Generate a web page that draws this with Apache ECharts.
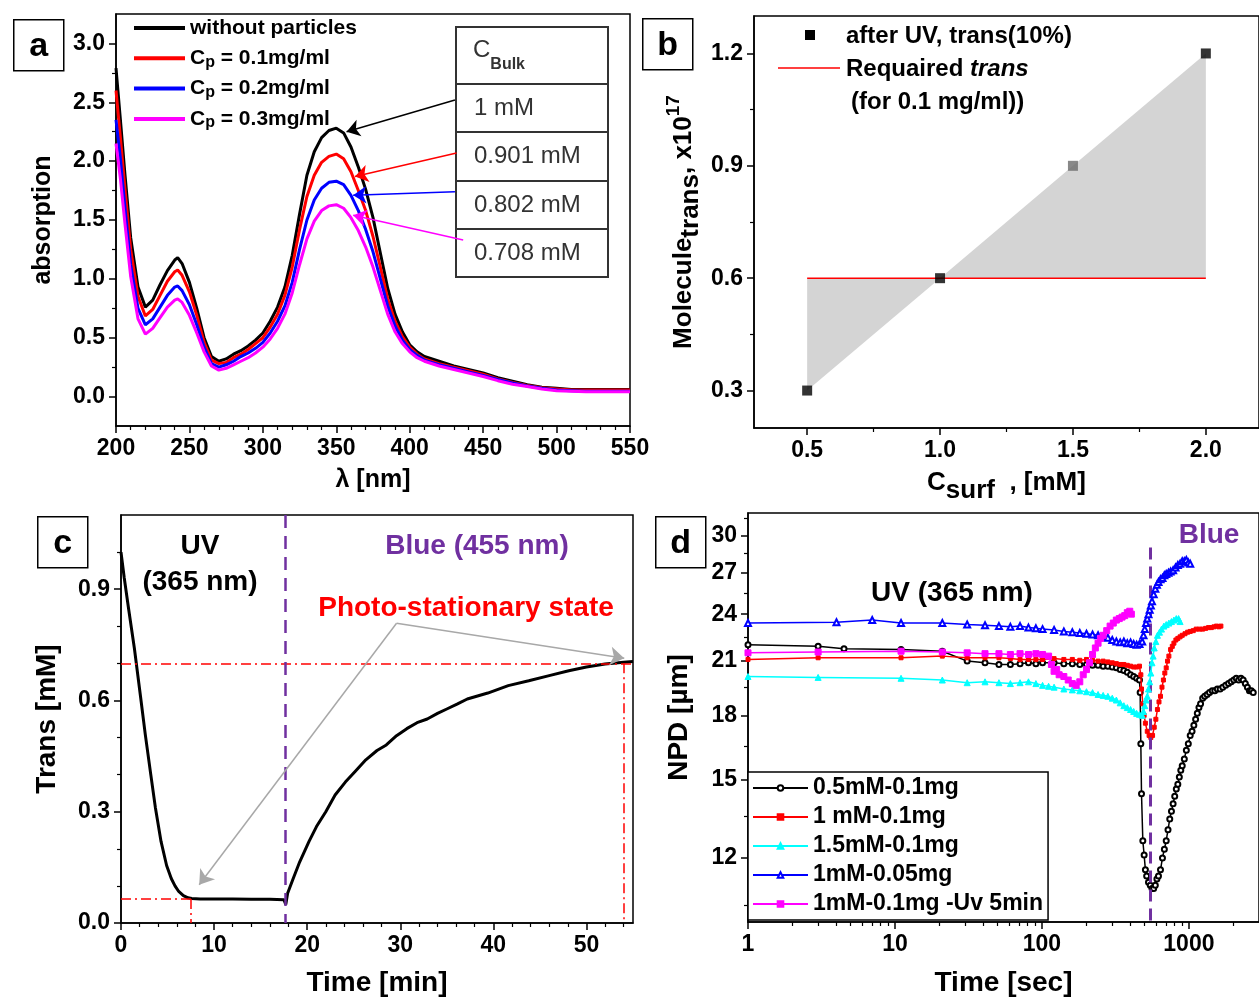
<!DOCTYPE html>
<html>
<head>
<meta charset="utf-8">
<script src="https://cdn.jsdelivr.net/npm/echarts@6/dist/echarts.min.js"></script>
<style>
  html, body { margin: 0; padding: 0; background: #ffffff; }
  #chart { width: 1259px; height: 998px; }
</style>
</head>
<body>
<div id="chart"></div>
<script>
// ---------- (a) absorption spectra ----------
const wavelength = [200,203,206,210,215,220,225,230,235,240,242,245,250,255,260,265,270,275,280,285,290,295,300,305,310,315,320,325,330,335,340,345,350,355,360,365,370,375,380,385,390,395,400,405,410,420,430,440,450,460,470,480,490,500,510,520,530,540,550];
const absNoParticles = [2.79,2.35,1.90,1.35,0.93,0.76,0.82,0.95,1.07,1.16,1.18,1.13,0.97,0.75,0.50,0.34,0.30,0.32,0.36,0.39,0.43,0.48,0.54,0.64,0.76,0.93,1.20,1.55,1.88,2.08,2.20,2.26,2.28,2.24,2.12,1.95,1.76,1.52,1.22,0.92,0.70,0.55,0.44,0.38,0.34,0.30,0.26,0.23,0.20,0.16,0.13,0.10,0.08,0.07,0.06,0.06,0.06,0.06,0.06];
const absCp01 = [2.60,2.20,1.78,1.25,0.85,0.685,0.74,0.86,0.98,1.06,1.075,1.03,0.89,0.69,0.46,0.31,0.28,0.29,0.33,0.36,0.40,0.45,0.50,0.59,0.70,0.86,1.10,1.42,1.70,1.88,1.99,2.04,2.06,2.02,1.91,1.75,1.58,1.36,1.10,0.83,0.64,0.51,0.42,0.36,0.32,0.28,0.25,0.22,0.19,0.15,0.12,0.095,0.075,0.065,0.055,0.055,0.055,0.055,0.055];
const absCp02 = [2.35,2.02,1.62,1.12,0.75,0.61,0.66,0.76,0.86,0.93,0.94,0.90,0.78,0.61,0.42,0.28,0.25,0.27,0.30,0.34,0.37,0.41,0.46,0.54,0.64,0.77,0.97,1.25,1.50,1.67,1.77,1.82,1.83,1.80,1.71,1.58,1.42,1.23,1.00,0.77,0.60,0.48,0.40,0.35,0.31,0.27,0.24,0.21,0.18,0.145,0.115,0.09,0.07,0.055,0.05,0.045,0.045,0.045,0.045];
const absCp03 = [2.15,1.85,1.48,1.02,0.66,0.53,0.58,0.67,0.76,0.82,0.83,0.80,0.69,0.54,0.38,0.26,0.225,0.24,0.27,0.30,0.33,0.37,0.42,0.49,0.58,0.70,0.88,1.12,1.34,1.49,1.58,1.62,1.63,1.60,1.52,1.41,1.27,1.10,0.90,0.70,0.55,0.45,0.38,0.33,0.30,0.26,0.23,0.20,0.17,0.135,0.105,0.085,0.065,0.05,0.045,0.04,0.04,0.04,0.04];
const spectraNames = ['without particles', 'Cp = 0.1mg/ml', 'Cp = 0.2mg/ml', 'Cp = 0.3mg/ml'];
const bulkHeader = 'Bulk';
const bulkLabels = ['1 mM', '0.901 mM', '0.802 mM', '0.708 mM'];
// arrow from each table row to its spectrum peak: [from, to] in (nm, absorption)
const bulkArrows = [
  [[430.8, 2.52], [357.0, 2.25]],
  [[431.9, 2.07], [362.7, 1.87]],
  [[430.8, 1.74], [361.5, 1.71]],
  [[436.4, 1.33], [361.5, 1.54]]
];
const lambdaTicks = [200, 250, 300, 350, 400, 450, 500, 550];
const absTicks = [0, 0.5, 1.0, 1.5, 2.0, 2.5, 3.0];

// ---------- (b) trans molecules vs surfactant concentration ----------
const cSurf = [0.5, 1.0, 1.5, 2.0];
const moleculesTrans = [0.3, 0.6, 0.9, 1.2];
const requiredTrans = 0.6;
const requiredRange = [0.5, 2.0];
const cSurfTicks = [0.5, 1.0, 1.5, 2.0];
const molTicks = [0.3, 0.6, 0.9, 1.2];

// ---------- (c) trans concentration under UV then blue light ----------
const timeMin = [0,0.35,0.8,1.44,2.1,2.6,3.2,3.7,4.3,4.9,5.4,5.8,6.2,6.7,7.2,7.6,8.5,10,12,14,16,17.5,17.7,17.9,18.5,19.2,20.2,21,22,23,24.1,25.2,26.3,27.5,28.5,29.6,30.7,31.8,32.9,34,35,36.1,37.2,38.3,39.4,41.6,43.8,46,48.1,50,52,54,55];
const transConc = [1.0,0.93,0.85,0.74,0.61,0.51,0.40,0.31,0.22,0.155,0.12,0.10,0.085,0.074,0.068,0.066,0.065,0.065,0.065,0.064,0.064,0.063,0.05,0.08,0.12,0.165,0.22,0.26,0.30,0.345,0.38,0.41,0.44,0.465,0.48,0.505,0.524,0.54,0.55,0.565,0.577,0.59,0.604,0.612,0.62,0.64,0.653,0.667,0.68,0.69,0.698,0.703,0.705];
const uvEndTime = 17.6;
const pssLevel = 0.7, pssTime = 54;
const uvPlateau = 0.065, uvPlateauTime = 7.5;
const pssArrowFrom = [29.6, 0.808];
const pssArrowTo = [[8.4, 0.103], [54.06, 0.714]];
const timeMinTicks = [0, 10, 20, 30, 40, 50];
const transTicks = [0, 0.3, 0.6, 0.9];

// ---------- (d) NPD vs time (log-log) ----------
const npdNames = ['0.5mM-0.1mg', '1 mM-0.1mg', '1.5mM-0.1mg', '1mM-0.05mg', '1mM-0.1mg -Uv 5min'];
const npd05mM01mg = [[1,22.0],[3,21.9],[4.5,21.75],[11,21.7],[21,21.6],[31,21.0],[41,20.9],[51,20.8],[61,20.8],[71,20.85],[81,20.9],[91,20.85],[101,20.9],[121,20.9],[141,20.85],[161,20.85],[181,20.8],[201,20.8],[221,20.75],[241,20.75],[261,20.7],[281,20.7],[301,20.65],[321,20.6],[341,20.5],[361,20.45],[381,20.35],[401,20.2],[421,20.1],[441,20.0],[461,19.9],[466,19.2],[471,16.6],[476,14.4],[486,12.6],[496,12.1],[506,11.6],[516,11.4],[531,11.2],[546,11.1],[561,11.0],[576,11.0],[591,11.1],[606,11.3],[621,11.4],[641,11.6],[661,12.0],[681,12.3],[701,12.6],[721,13.0],[741,13.4],[761,13.7],[781,14.0],[801,14.3],[821,14.6],[841,14.8],[861,15.1],[881,15.4],[901,15.6],[931,15.9],[961,16.3],[991,16.6],[1021,17.0],[1051,17.2],[1081,17.5],[1111,17.8],[1141,18.1],[1171,18.4],[1201,18.6],[1241,18.9],[1281,19.0],[1331,19.1],[1381,19.2],[1441,19.3],[1501,19.3],[1561,19.4],[1631,19.4],[1701,19.5],[1781,19.6],[1861,19.7],[1941,19.8],[2021,19.9],[2101,20.0],[2181,19.9],[2261,20.0],[2341,19.9],[2421,19.7],[2501,19.5],[2581,19.3],[2661,19.3],[2741,19.2]];
const npd1mM01mg = [[1,21.1],[3,21.2],[11,21.2],[21,21.3],[31,21.2],[41,21.2],[51,21.2],[61,21.15],[71,21.1],[81,21.1],[91,21.1],[101,21.1],[121,21.15],[141,21.1],[161,21.1],[181,21.05],[201,21.1],[221,21.05],[241,21.0],[261,21.0],[281,20.95],[301,20.9],[321,20.85],[341,20.8],[361,20.8],[381,20.75],[401,20.7],[421,20.65],[441,20.65],[461,20.7],[471,20.2],[476,19.4],[486,18.6],[496,18.0],[506,17.6],[521,17.2],[536,17.0],[551,16.9],[566,17.0],[581,17.4],[596,17.8],[611,18.3],[626,18.7],[641,19.0],[656,19.5],[671,19.9],[686,20.3],[701,20.6],[716,21.0],[731,21.3],[751,21.7],[771,21.9],[791,22.1],[816,22.3],[841,22.4],[871,22.5],[901,22.6],[941,22.7],[981,22.8],[1021,22.85],[1071,22.9],[1121,23.0],[1181,23.0],[1241,23.0],[1301,23.05],[1361,23.1],[1421,23.1],[1481,23.15],[1541,23.2],[1601,23.15],[1651,23.2]];
const npd15mM01mg = [[1,20.1],[3,20.05],[11,20.0],[21,19.9],[31,19.75],[41,19.8],[51,19.75],[61,19.7],[71,19.75],[81,19.8],[91,19.7],[101,19.6],[111,19.55],[121,19.5],[141,19.4],[161,19.35],[181,19.3],[201,19.25],[221,19.2],[241,19.1],[261,19.05],[281,19.0],[301,18.9],[321,18.8],[341,18.65],[361,18.5],[381,18.4],[401,18.3],[421,18.2],[441,18.1],[461,18.05],[481,18.0],[491,18.2],[501,18.5],[511,18.8],[521,19.0],[531,19.4],[541,19.8],[551,20.3],[561,20.9],[571,21.3],[581,21.8],[596,22.2],[611,22.6],[631,22.8],[651,23.0],[676,23.2],[701,23.3],[731,23.4],[761,23.5],[791,23.6],[821,23.7],[851,23.7],[871,23.5]];
const npd1mM005mg = [[1,23.4],[4,23.45],[7,23.6],[11,23.4],[21,23.4],[31,23.3],[41,23.25],[51,23.2],[61,23.15],[71,23.2],[81,23.1],[91,23.05],[101,23.0],[121,22.95],[141,22.85],[161,22.8],[181,22.75],[201,22.7],[221,22.65],[241,22.6],[261,22.5],[281,22.45],[301,22.3],[321,22.2],[341,22.15],[361,22.2],[381,22.1],[401,22.15],[421,22.05],[441,22.0],[461,22.05],[481,22.2],[491,22.6],[501,23.0],[511,23.4],[521,23.7],[531,24.0],[541,24.3],[551,24.6],[561,24.9],[576,25.4],[591,25.8],[606,26.1],[621,26.3],[641,26.5],[661,26.6],[681,26.8],[701,26.9],[726,27.0],[751,27.1],[781,27.2],[811,27.4],[841,27.6],[871,27.7],[901,27.9],[931,27.9],[961,28.0],[991,27.8],[1021,27.7]];
const npd1mM01mgUv5 = [[1,21.5],[3,21.55],[11,21.6],[21,21.55],[31,21.5],[41,21.45],[51,21.45],[61,21.4],[71,21.45],[81,21.4],[91,21.45],[101,21.4],[111,21.3],[116,20.8],[121,20.4],[126,20.5],[131,20.2],[141,20.1],[151,19.9],[161,19.7],[171,19.6],[181,19.8],[191,20.2],[201,20.5],[211,20.9],[221,21.4],[231,21.8],[241,22.1],[251,22.4],[261,22.6],[276,22.9],[291,23.2],[306,23.4],[321,23.6],[336,23.7],[351,23.8],[366,23.9],[381,24.1],[396,24.2],[406,24.0]];
const blueOnTime = 550;
const blueLineSpan = [29.0, 10];
const timeSecTicks = [1, 10, 100, 1000];
const npdTicks = [12, 15, 18, 21, 24, 27, 30];

// ---------- styling ----------
const FONT = "'Liberation Sans', Arial, Helvetica, sans-serif";
const PURPLE = '#7030a0';
const spectraColors = ['#000000', '#ff0000', '#0000ff', '#ff00ff'];
const npdStyles = [
  { color: '#000000', symbol: 'emptyCircle', size: 5 },
  { color: '#ff0000', symbol: 'rect', size: 4 },
  { color: '#00ffff', symbol: 'triangle', size: 6 },
  { color: '#0000ff', symbol: 'emptyTriangle', size: 6 },
  { color: '#ff00ff', symbol: 'rect', size: 6 }
];
const pointShade = ['#000000', '#000000', '#6a6a6a', '#000000'];

const axisStroke = { color: '#000', width: 1.5 };

function range(from, to, step, skipEvery) {
  const out = [];
  for (let v = from; v <= to + 1e-9; v += step) {
    const r = Math.round(v * 1000) / 1000;
    if (skipEvery && Math.abs(r / skipEvery - Math.round(r / skipEvery)) < 1e-6) continue;
    out.push(r);
  }
  return out;
}

function mainAxis(gridIndex, type, min, max, position, ticks, fmt, name, nameGap, nameStyle) {
  return {
    type: type, gridIndex: gridIndex, min: min, max: max, position: position, logBase: 10,
    axisLine: { show: true, onZero: false, lineStyle: axisStroke },
    axisTick: { show: true, length: 7, customValues: ticks, lineStyle: axisStroke },
    axisLabel: { show: true, customValues: ticks, formatter: fmt, color: '#000', fontFamily: FONT,
                 fontWeight: 'bold', fontSize: 23, margin: 11 },
    splitLine: { show: false },
    name: name, nameLocation: 'middle', nameGap: nameGap,
    nameRotate: (position === 'left') ? 90 : 0,
    nameTextStyle: Object.assign({ color: '#000', fontFamily: FONT, fontWeight: 'bold', fontSize: 26 }, nameStyle || {})
  };
}
function minorAxis(gridIndex, type, min, max, position, ticks) {
  return {
    type: type, gridIndex: gridIndex, min: min, max: max, position: position, logBase: 10,
    axisLine: { show: false, onZero: false },
    axisTick: { show: true, length: 4, customValues: ticks, lineStyle: { color: '#000', width: 1.2 } },
    axisLabel: { show: false },
    splitLine: { show: false }
  };
}
const fix1 = v => Number(v).toFixed(1);
const plain = v => String(v);

const grids = [
  { left: 116, top: 14, right: 629, bottom: 572 },
  { left: 754, top: 16, right: -8, bottom: 570 },
  { left: 121, top: 515, right: 626, bottom: 73 },
  { left: 748, top: 513, right: -4, bottom: 75 }
].map(g => Object.assign({ show: true, borderColor: '#000', borderWidth: 1.5, backgroundColor: 'transparent' }, g));

const xAxes = [
  mainAxis(0, 'value', 200, 550, 'bottom', lambdaTicks, plain, 'λ [nm]', 42, { fontSize: 25 }),
  mainAxis(1, 'value', 0.3, 2.2, 'bottom', cSurfTicks, fix1,
    '{c|C}{s|surf}{c|  , [mM]}', 42,
    { rich: { c: { fontFamily: FONT, fontWeight: 'bold', fontSize: 26, color: '#000', lineHeight: 34, verticalAlign: 'top' },
              s: { fontFamily: FONT, fontWeight: 'bold', fontSize: 26, color: '#000', lineHeight: 34, verticalAlign: 'bottom' } } }),
  mainAxis(2, 'value', 0, 55, 'bottom', timeMinTicks, plain, 'Time [min]', 46, { fontSize: 28 }),
  mainAxis(3, 'log', 1, 3000, 'bottom', timeSecTicks, plain, 'Time [sec]', 47, { fontSize: 28 }),
  minorAxis(0, 'value', 200, 550, 'bottom', range(210, 540, 10, 50)),
  minorAxis(1, 'value', 0.3, 2.2, 'bottom', [0.75, 1.25, 1.75]),
  minorAxis(2, 'value', 0, 55, 'bottom', range(2, 54, 2, 10)),
  minorAxis(3, 'log', 1, 3000, 'bottom', [2,3,4,5,6,7,8,9,20,30,40,50,60,70,80,90,200,300,400,500,600,700,800,900,2000])
];
const yAxes = [
  mainAxis(0, 'value', -0.25, 3.25, 'left', absTicks, fix1, 'absorption', 60, { fontSize: 25 }),
  mainAxis(1, 'value', 0.2, 1.3, 'left', molTicks, fix1,
    '{m|Molecule}{s|trans}{m|, x10}{p|17}', 50,
    { rich: { m: { fontFamily: FONT, fontWeight: 'bold', fontSize: 26, color: '#000', lineHeight: 40 },
              s: { fontFamily: FONT, fontWeight: 'bold', fontSize: 26, color: '#000', lineHeight: 40, verticalAlign: 'bottom' },
              p: { fontFamily: FONT, fontWeight: 'bold', fontSize: 19, color: '#000', lineHeight: 40, verticalAlign: 'top' } } }),
  mainAxis(2, 'value', 0, 1.1, 'left', transTicks, fix1, 'Trans [mM]', 60, { fontSize: 28 }),
  mainAxis(3, 'log', 10, 32, 'left', npdTicks, plain, 'NPD [µm]', 55, { fontSize: 28 }),
  minorAxis(0, 'value', -0.25, 3.25, 'left', range(0.25, 2.75, 0.5)),
  minorAxis(1, 'value', 0.2, 1.3, 'left', [0.45, 0.75, 1.05]),
  minorAxis(2, 'value', 0, 1.1, 'left', [0.1, 0.2, 0.4, 0.5, 0.7, 0.8, 1.0]),
  minorAxis(3, 'log', 10, 32, 'left', [10.5, 13.5, 16.5, 19.5, 22.5, 25.5, 28.5, 31.5])
];

const series = [];

// (a) spectra, each with an arrow from its table row
[absNoParticles, absCp01, absCp02, absCp03].forEach((vals, i) => {
  series.push({
    type: 'line', name: spectraNames[i], xAxisIndex: 0, yAxisIndex: 0,
    data: wavelength.map((w, k) => [w, vals[k]]),
    showSymbol: false, symbol: 'none', smooth: false, z: 3,
    lineStyle: { color: spectraColors[i], width: 3 }, itemStyle: { color: spectraColors[i] },
    markLine: {
      silent: true, label: { show: false },
      data: [[
        { coord: bulkArrows[i][0], symbol: 'none', lineStyle: { color: spectraColors[i], width: 1.5, type: 'solid' } },
        { coord: bulkArrows[i][1], symbol: 'arrow', symbolSize: 13 }
      ]]
    }
  });
});

// (b) shaded gap between measured and required trans, required line, measured points
series.push({
  type: 'line', name: 'gap', xAxisIndex: 1, yAxisIndex: 1,
  data: cSurf.map((c, k) => [c, moleculesTrans[k]]),
  symbol: 'none', lineStyle: { width: 0 },
  areaStyle: { origin: requiredTrans, color: '#d4d4d4', opacity: 1 }, z: 1
});
series.push({
  type: 'line', name: 'Requaired trans', xAxisIndex: 1, yAxisIndex: 1,
  data: requiredRange.map(c => [c, requiredTrans]),
  symbol: 'none', lineStyle: { color: '#ff0000', width: 1.5 }, z: 2
});
series.push({
  type: 'scatter', name: 'after UV, trans(10%)', xAxisIndex: 1, yAxisIndex: 1,
  data: cSurf.map((c, k) => [c, moleculesTrans[k]]),
  symbol: 'rect', symbolSize: 10,
  itemStyle: { color: p => pointShade[p.dataIndex] }, z: 3
});

// (c) kinetics with guide lines and arrows
const dashDot = [10, 4, 2, 4];
series.push({
  type: 'line', name: 'trans', xAxisIndex: 2, yAxisIndex: 2,
  data: timeMin.map((t, k) => [t, transConc[k]]),
  symbol: 'none', lineStyle: { color: '#000', width: 3 }, z: 3,
  markLine: {
    silent: true, symbol: ['none', 'none'], label: { show: false },
    data: [
      [{ coord: [0, pssLevel], lineStyle: { color: '#ff0000', width: 1.5, type: dashDot } }, { coord: [55, pssLevel] }],
      [{ coord: [pssTime, pssLevel], lineStyle: { color: '#ff0000', width: 1.5, type: dashDot } }, { coord: [pssTime, 0] }],
      [{ coord: [0, uvPlateau], lineStyle: { color: '#ff0000', width: 1.5, type: dashDot } }, { coord: [uvPlateauTime, uvPlateau] }],
      [{ coord: [uvPlateauTime, uvPlateau], lineStyle: { color: '#ff0000', width: 1.5, type: dashDot } }, { coord: [uvPlateauTime, 0] }],
      [{ coord: [uvEndTime, 1.1], lineStyle: { color: PURPLE, width: 2.5, type: [13, 8] } }, { coord: [uvEndTime, 0] }],
      [{ coord: pssArrowFrom, symbol: 'none', lineStyle: { color: '#a8a8a8', width: 1.5, type: 'solid' } },
       { coord: pssArrowTo[0], symbol: 'arrow', symbolSize: 14 }],
      [{ coord: pssArrowFrom, symbol: 'none', lineStyle: { color: '#a8a8a8', width: 1.5, type: 'solid' } },
       { coord: pssArrowTo[1], symbol: 'arrow', symbolSize: 14 }]
    ]
  }
});

// (d) NPD curves
[npd05mM01mg, npd1mM01mg, npd15mM01mg, npd1mM005mg, npd1mM01mgUv5].forEach((pts, i) => {
  const st = npdStyles[i];
  const s = {
    type: 'line', name: npdNames[i], xAxisIndex: 3, yAxisIndex: 3,
    data: pts, symbol: st.symbol, symbolSize: st.size, showSymbol: true, showAllSymbol: true,
    lineStyle: { color: st.color, width: 1.5 },
    itemStyle: { color: st.color, borderColor: st.color, borderWidth: 1 }, z: 3 + i
  };
  if (i === 0) {
    s.markLine = {
      silent: true, symbol: ['none', 'none'], label: { show: false },
      lineStyle: { color: PURPLE, width: 3, type: [12, 7] },
      data: [[{ coord: [blueOnTime, blueLineSpan[0]] }, { coord: [blueOnTime, blueLineSpan[1]] }]]
    };
  }
  series.push(s);
});

const legendText = { fontFamily: FONT, fontWeight: 'bold', color: '#000' };
const legends = [
  {
    left: 129, top: 11, orient: 'vertical', itemWidth: 51, itemHeight: 4, itemGap: 6.3, icon: 'rect',
    selectedMode: false, data: spectraNames,
    formatter: n => n.indexOf('Cp') === 0 ? '{b|C}{sub|p}{b|' + n.slice(2) + '}' : '{b|' + n + '}',
    textStyle: Object.assign({ fontSize: 21, lineHeight: 24,
      rich: { b: Object.assign({ fontSize: 21, lineHeight: 24 }, legendText),
              sub: Object.assign({ fontSize: 16, lineHeight: 24, verticalAlign: 'bottom' }, legendText) } }, legendText)
  },
  {
    left: 748, top: 772, orient: 'vertical', itemWidth: 55, itemHeight: 7, itemGap: 5,
    padding: [4, 5, 4, 4], borderColor: '#000', borderWidth: 1.5, backgroundColor: '#fff',
    selectedMode: false, data: npdNames,
    textStyle: Object.assign({ fontSize: 23, lineHeight: 24 }, legendText)
  }
];

// panel tags, table, legend of (b), free text
function tag(letter, x, y) {
  return {
    type: 'group', left: x, top: y, children: [
      { type: 'rect', shape: { x: 0, y: 0, width: 50, height: 51 }, style: { fill: '#fff', stroke: '#000', lineWidth: 1.5 } },
      { type: 'text', x: 25, y: 27, style: { text: letter, font: 'bold 34px ' + FONT, fill: '#000', align: 'center', verticalAlign: 'middle' } }
    ]
  };
}
function label(text, x, y, size, color, align) {
  return { type: 'text', x: x, y: y, z: 10,
    style: { text: text, font: 'bold ' + size + 'px ' + FONT, fill: color || '#000', align: align || 'center', verticalAlign: 'middle' } };
}
const tableRows = [27, 84, 132, 181, 229, 277];
const tableChildren = [
  { type: 'rect', shape: { x: 456, y: tableRows[0], width: 152, height: tableRows[5] - tableRows[0] },
    style: { fill: '#fff', stroke: '#333', lineWidth: 2 } }
];
for (let r = 1; r < 5; r++) {
  tableChildren.push({ type: 'line', shape: { x1: 456, y1: tableRows[r], x2: 608, y2: tableRows[r] }, style: { stroke: '#333', lineWidth: 2 } });
}
tableChildren.push({ type: 'text', x: 473, y: (tableRows[0] + tableRows[1]) / 2,
  style: { text: '{c|C}{s|' + bulkHeader + '}', verticalAlign: 'middle', align: 'left',
    rich: { c: { font: '24px ' + FONT, fill: '#333', lineHeight: 34, verticalAlign: 'top' },
            s: { font: 'bold 16px ' + FONT, fill: '#333', lineHeight: 34, verticalAlign: 'bottom' } } } });
bulkLabels.forEach((t, i) => {
  tableChildren.push({ type: 'text', x: 474, y: (tableRows[i + 1] + tableRows[i + 2]) / 2,
    style: { text: t, font: '24px ' + FONT, fill: '#333', align: 'left', verticalAlign: 'middle' } });
});

const graphics = [
  tag('a', 13, 19), tag('b', 642, 18), tag('c', 37, 516), tag('d', 655, 516),
  { type: 'group', z: 5, children: tableChildren },
  // legend of panel b
  { type: 'rect', shape: { x: 805, y: 30, width: 10, height: 10 }, style: { fill: '#000' }, z: 10 },
  label('after UV, trans(10%)', 846, 36, 24, '#000', 'left'),
  { type: 'line', shape: { x1: 778, y1: 68, x2: 840, y2: 68 }, style: { stroke: '#ff0000', lineWidth: 1.5 }, z: 10 },
  { type: 'text', x: 846, y: 69, z: 10,
    style: { text: '{n|Requaired }{i|trans}', verticalAlign: 'middle', align: 'left',
      rich: { n: { font: 'bold 24px ' + FONT, fill: '#000' }, i: { font: 'italic bold 24px ' + FONT, fill: '#000' } } } },
  label('(for 0.1 mg/ml))', 851, 102, 24, '#000', 'left'),
  // panel c annotations
  label('UV', 200, 546, 28),
  label('(365 nm)', 200, 582, 28),
  label('Blue (455 nm)', 477, 546, 28, PURPLE),
  label('Photo-stationary state', 466, 608, 28, '#ff0000'),
  // panel d annotations
  label('UV (365 nm)', 952, 593, 28),
  label('Blue', 1209, 535, 28, PURPLE)
];

const chart = echarts.init(document.getElementById('chart'), null, { renderer: 'canvas' });
chart.setOption({
  animation: false,
  backgroundColor: '#ffffff',
  textStyle: { fontFamily: FONT },
  grid: grids,
  xAxis: xAxes,
  yAxis: yAxes,
  legend: legends,
  series: series,
  graphic: graphics
});
</script>
</body>
</html>
